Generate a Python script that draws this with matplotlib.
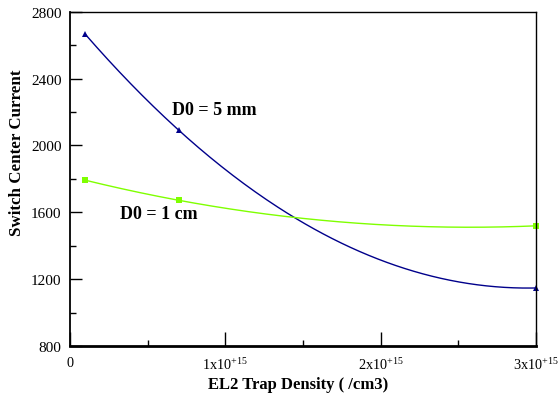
import numpy as np
import matplotlib
matplotlib.use("Agg")
import matplotlib.pyplot as plt
from matplotlib.ticker import MultipleLocator

plt.rcParams['font.family'] = 'Liberation Serif'
plt.rcParams['mathtext.fontset'] = 'custom'
plt.rcParams['mathtext.rm'] = 'Liberation Serif'

# trap density in units of 1e15 /cm3
density = [0.1, 0.7, 3.0]
current_5mm = [2665, 2092, 1147]
current_1cm = [1792, 1672, 1519]
xtick_vals = [0, 1, 2, 3]
xtick_labels = ['0', '1x10$^{+15}$', '2x10$^{+15}$', '3x10$^{+15}$']

fig = plt.figure(figsize=(5.59, 4.02), dpi=100)
ax = fig.add_axes([0.125, 0.137, 0.834, 0.831])

xs = np.linspace(density[0], density[-1], 200)
for y, col, mk in [(current_5mm, '#00008b', '^'), (current_1cm, '#7fff00', 's')]:
    p = np.polyfit(density, y, 2)
    ax.plot(xs, np.polyval(p, xs), color=col, lw=1)
    ax.plot(density, y, mk, color=col, ms=3.8, mew=0, clip_on=False)

ax.text(0.657, 2213, 'D0 = 5 mm', fontsize=13, fontweight='bold', ha='left', va='center')
ax.text(0.32, 1590, 'D0 = 1 cm', fontsize=13, fontweight='bold', ha='left', va='center')

ax.set_xlim(0, 3)
ax.set_ylim(800, 2800)
ax.set_xticks(xtick_vals)
ax.set_xticklabels(xtick_labels)
ax.xaxis.set_minor_locator(MultipleLocator(0.5))
ax.yaxis.set_major_locator(MultipleLocator(400))
ax.yaxis.set_minor_locator(MultipleLocator(200))
ax.tick_params(axis='y', which='major', direction='in', length=8.6, width=1, labelsize=11, pad=6)
ax.tick_params(axis='x', which='major', direction='in', length=10, width=1, labelsize=10.3, pad=7)
ax.tick_params(which='minor', direction='in', length=4.5, width=1)
ax.tick_params(top=False, right=False, which='both')
for s in ax.spines.values():
    s.set_linewidth(1)
ax.spines['bottom'].set_linewidth(2)
ax.spines['left'].set_linewidth(1.3)

ax.set_xlabel('EL2 Trap Density ( /cm3)', fontsize=12, fontweight='bold')
ax.xaxis.set_label_coords(0.49, -0.09)
ax.set_ylabel('Switch Center Current', fontsize=12.2, fontweight='bold')
ax.yaxis.set_label_coords(-0.097, 0.58)

fig.savefig('out.png', dpi=100)
